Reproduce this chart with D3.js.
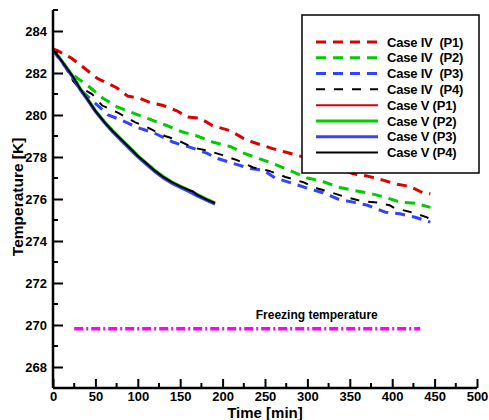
<!DOCTYPE html>
<html>
<head>
<meta charset="utf-8">
<script src="https://cdn.jsdelivr.net/npm/d3@7"></script>
<style>
  body { margin: 0; background: #fff; }
  svg { display: block; font-family: "Liberation Sans", Arial, sans-serif; }
  .axis text { font-weight: bold; font-size: 13px; fill: #000; }
  .axis path, .axis line { stroke: #000; }
</style>
</head>
<body>
<svg id="chart" width="489" height="420"></svg>
<script>
// Case IV (dashed) - [time min, temperature K]
const caseIV_P1 = [[0,283.15],[6,283.05],[22,282.7],[38,282.2],[52,281.75],[65,281.5],[75,281.3],[88,280.9],[102,280.8],[114,280.6],[130,280.45],[146,280.2],[159,279.9],[173,279.85],[188,279.5],[209,279.25],[224,278.9],[236,278.7],[259,278.4],[277,278.2],[300,277.95],[315,277.7],[335,277.5],[354,277.2],[370,277.1],[389,276.9],[406,276.7],[421,276.6],[436,276.3],[445,276.25]];
const caseIV_P2 = [[0,283.1],[10,282.5],[22,281.95],[41,281.4],[59,280.8],[75,280.4],[94,280.1],[114,279.8],[134,279.5],[152,279.2],[170,279.0],[189,278.7],[209,278.5],[224,278.2],[241,277.95],[259,277.7],[277,277.4],[300,277.0],[317,276.85],[338,276.55],[356,276.4],[374,276.27],[392,276.08],[409,275.85],[427,275.8],[445,275.6]];
const caseIV_P3 = [[0,283.1],[12,282.5],[25,281.6],[35,281.1],[50,280.55],[65,280.0],[81,279.75],[100,279.4],[120,279.13],[142,278.7],[162,278.46],[182,278.17],[193,277.94],[212,277.7],[232,277.46],[248,277.37],[262,277.0],[282,276.75],[301,276.5],[318,276.3],[336,276.0],[354,275.85],[371,275.7],[392,275.37],[409,275.3],[427,275.13],[445,274.9]];
const caseIV_P4 = [[0,283.1],[12,282.5],[22,281.7],[30,281.35],[46,281.0],[58,280.45],[77,280.1],[97,279.65],[112,279.4],[132,279.0],[147,278.8],[165,278.45],[183,278.3],[199,278.1],[217,277.85],[236,277.5],[254,277.35],[274,277.05],[295,276.8],[312,276.5],[329,276.3],[347,276.07],[364,275.9],[382,275.83],[397,275.7],[403,275.56],[423,275.37],[441,275.13],[445,275.0]];

// Case V (solid)
const caseV_P1 = [[0,283.1],[8,282.7],[16,282.25],[24,281.8],[32,281.25],[40,280.8],[50,280.2],[60,279.7],[70,279.25],[80,278.85],[90,278.45],[100,278.05],[110,277.7],[120,277.35],[130,277.05],[140,276.8],[150,276.6],[160,276.4],[170,276.2],[180,276.0],[191,275.8]];
const caseV_P2 = [[0,283.1],[8,282.72],[16,282.27],[24,281.82],[32,281.27],[40,280.82],[50,280.22],[60,279.72],[70,279.27],[80,278.87],[90,278.47],[100,278.07],[110,277.72],[120,277.37],[130,277.07],[140,276.82],[150,276.62],[160,276.42],[170,276.22],[180,276.02],[191,275.82]];
const caseV_P3 = [[0,283.08],[8,282.67],[16,282.22],[24,281.76],[32,281.21],[40,280.76],[50,280.16],[60,279.66],[70,279.2],[80,278.8],[90,278.4],[100,278.0],[110,277.65],[120,277.3],[130,277.0],[140,276.75],[150,276.55],[160,276.36],[170,276.15],[180,275.96],[191,275.76]];
const caseV_P4 = [[0,283.1],[8,282.7],[16,282.25],[24,281.8],[32,281.25],[40,280.8],[50,280.2],[60,279.7],[70,279.25],[80,278.85],[90,278.45],[100,278.05],[110,277.7],[120,277.35],[130,277.05],[140,276.8],[150,276.6],[160,276.43],[165,276.36],[170,276.2],[180,276.0],[191,275.8]];

const freezing = [[25,269.82],[433,269.82]];

const seriesNames = ["Case IV  (P1)","Case IV  (P2)","Case IV  (P3)","Case IV  (P4)","Case V (P1)","Case V (P2)","Case V (P3)","Case V (P4)"];
const xTicks = [0,50,100,150,200,250,300,350,400,450,500];
const yTicks = [268,270,272,274,276,278,280,282,284];

const series = [
  {name: seriesNames[0], data: caseIV_P1, color: "#dd0000", width: 3, dash: "10,7"},
  {name: seriesNames[1], data: caseIV_P2, color: "#00cc00", width: 3, dash: "10,7"},
  {name: seriesNames[2], data: caseIV_P3, color: "#3344ff", width: 3, dash: "10,7"},
  {name: seriesNames[3], data: caseIV_P4, color: "#000000", width: 2, dash: "9,9"},
  {name: seriesNames[4], data: caseV_P1, color: "#dd0000", width: 2, dash: null},
  {name: seriesNames[5], data: caseV_P2, color: "#00cc00", width: 3, dash: null},
  {name: seriesNames[6], data: caseV_P3, color: "#3344ff", width: 3, dash: null},
  {name: seriesNames[7], data: caseV_P4, color: "#000000", width: 2, dash: null}
];

const svg = d3.select("#chart");

const x = d3.scaleLinear().domain([0, 500]).range([53, 477]);
const y = d3.scaleLinear().domain([267, 285]).range([388, 10]);

// lines
const line = d3.line().x(d => x(d[0])).y(d => y(d[1]));

svg.append("g").selectAll("path")
  .data(series)
  .enter()
  .append("path")
  .attr("d", d => line(d.data))
  .attr("fill", "none")
  .attr("stroke", d => d.color)
  .attr("stroke-width", d => d.width)
  .attr("stroke-dasharray", d => d.dash);

// freezing line
svg.append("path")
  .attr("d", line(freezing))
  .attr("fill", "none")
  .attr("stroke", "#ff00ff")
  .attr("stroke-width", 3.5)
  .attr("stroke-dasharray", "9,3,2,3");

svg.append("text")
  .attr("x", x(311))
  .attr("y", y(269.82) - 10)
  .attr("text-anchor", "middle")
  .style("font-size", "12px")
  .style("font-weight", "bold")
  .text("Freezing temperature");

// axes
const xAxis = d3.axisBottom(x).tickValues(xTicks).tickSize(-9).tickPadding(4).tickFormat(d3.format("d"));
const yAxis = d3.axisLeft(y).tickValues(yTicks).tickSize(-10).tickPadding(6).tickFormat(d3.format("d"));

const gx = svg.append("g")
  .attr("class", "axis")
  .attr("transform", "translate(0," + y(267) + ")")
  .call(xAxis);
gx.select(".domain").attr("d", "M" + x(0) + ",0H" + x(500)).attr("stroke-width", 2.5);
gx.selectAll(".tick line").attr("stroke-width", 2);

const gy = svg.append("g")
  .attr("class", "axis")
  .attr("transform", "translate(" + x(0) + ",0)")
  .call(yAxis);
gy.select(".domain").attr("d", "M0," + y(267) + "V" + y(285)).attr("stroke-width", 2.5);
gy.selectAll(".tick line").attr("stroke-width", 2);

// minor ticks
svg.append("g").selectAll("line")
  .data(d3.range(25, 500, 50))
  .enter()
  .append("line")
  .attr("x1", d => x(d)).attr("x2", d => x(d))
  .attr("y1", y(267)).attr("y2", y(267) - 5)
  .attr("stroke", "#000").attr("stroke-width", 2);

svg.append("g").selectAll("line")
  .data(d3.range(269, 286, 2))
  .enter()
  .append("line")
  .attr("x1", x(0)).attr("x2", x(0) + 5)
  .attr("y1", d => y(d)).attr("y2", d => y(d))
  .attr("stroke", "#000").attr("stroke-width", 2);

// axis titles
svg.append("text")
  .attr("x", (x(0) + x(500)) / 2)
  .attr("y", 418)
  .attr("text-anchor", "middle")
  .style("font-size", "15px")
  .style("font-weight", "bold")
  .text("Time [min]");

svg.append("text")
  .attr("transform", "translate(23," + y(276.1) + ") rotate(-90)")
  .attr("text-anchor", "middle")
  .style("font-size", "15.5px")
  .style("font-weight", "bold")
  .text("Temperature [K]");

// legend
const legend = svg.append("g");
legend.append("rect")
  .attr("x", 302).attr("y", 15)
  .attr("width", 177).attr("height", 158)
  .attr("fill", "#fff")
  .attr("stroke", "#000")
  .attr("stroke-width", 1.5);

const rowY = d3.scalePoint().domain(seriesNames).range([42, 152.5]);

const items = legend.selectAll("g.item")
  .data(series)
  .enter()
  .append("g")
  .attr("class", "item")
  .attr("transform", d => "translate(0," + rowY(d.name) + ")");

items.append("line")
  .attr("x1", 316).attr("x2", 378)
  .attr("stroke", d => d.color)
  .attr("stroke-width", d => d.width)
  .attr("stroke-dasharray", d => d.dash);

items.append("text")
  .attr("x", 387)
  .attr("dy", "0.36em")
  .style("font-size", "13px")
  .style("font-weight", "bold")
  .style("letter-spacing", "-0.2px")
  .style("white-space", "pre")
  .text(d => d.name);
</script>
</body>
</html>
